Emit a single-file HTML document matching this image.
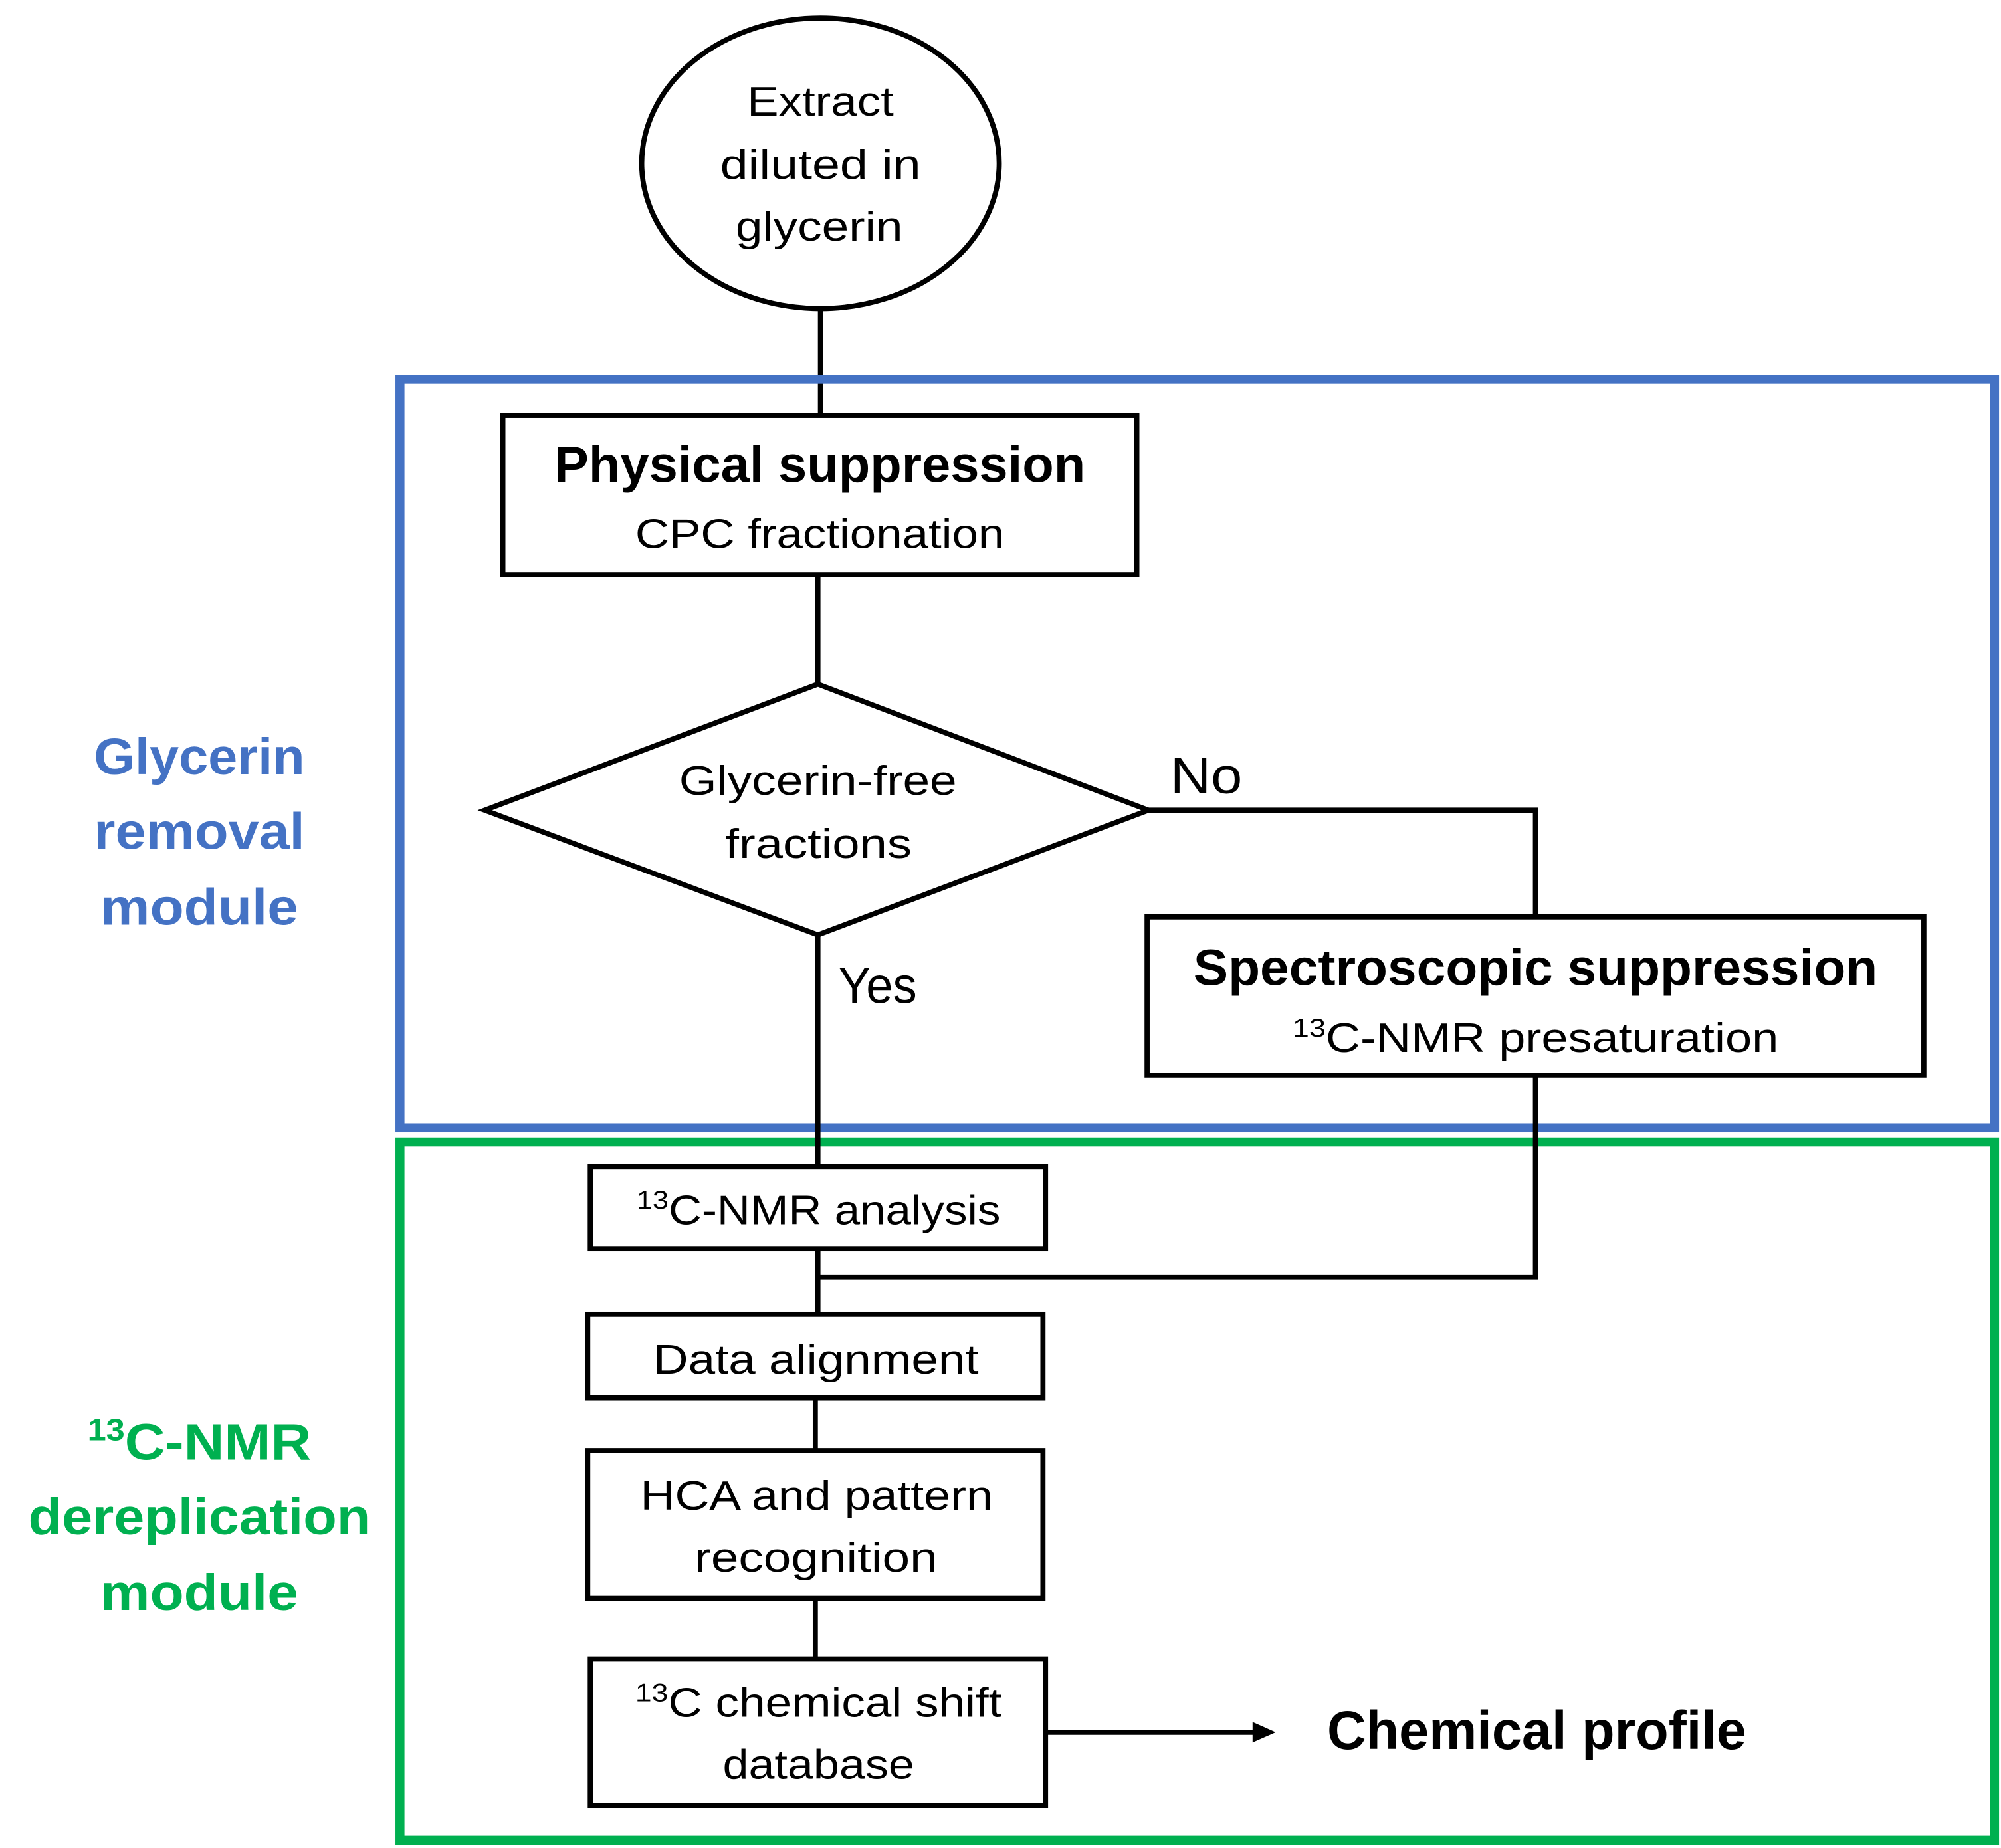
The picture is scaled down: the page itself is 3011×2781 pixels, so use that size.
<!DOCTYPE html>
<html><head><meta charset="utf-8"><style>html,body{margin:0;padding:0;background:#fff}svg{display:block}</style></head>
<body>
<svg width="3011" height="2781" viewBox="0 0 1556 1437" preserveAspectRatio="none" xmlns="http://www.w3.org/2000/svg" font-family="Liberation Sans, sans-serif">
<rect width="1556" height="1437" fill="#fff"/>
<g stroke="#000" stroke-width="4" fill="none">
<ellipse cx="638" cy="127" rx="139" ry="113"/>
<line x1="638" y1="240" x2="638" y2="323"/>
</g>
<rect x="311" y="295" width="1240" height="582" fill="none" stroke="#4472C4" stroke-width="7"/>
<rect x="311" y="888" width="1240" height="543" fill="none" stroke="#00B050" stroke-width="7"/>
<g stroke="#000" stroke-width="4" fill="none">
<rect x="391" y="323" width="493" height="124" fill="#fff"/>
<line x1="636" y1="447" x2="636" y2="532"/>
<polygon points="636,532 893,630 636,727 377,630" fill="#fff"/>
<polyline points="893,630 1194,630 1194,713"/>
<rect x="892" y="713" width="604" height="123" fill="#fff"/>
<line x1="636" y1="727" x2="636" y2="907"/>
<polyline points="1194,836 1194,993 636,993"/>
<rect x="459" y="907" width="354" height="64" fill="#fff"/>
<line x1="636" y1="971" x2="636" y2="1022"/>
<rect x="457" y="1022" width="354" height="65" fill="#fff"/>
<line x1="634" y1="1087" x2="634" y2="1128"/>
<rect x="457" y="1128" width="354" height="115" fill="#fff"/>
<line x1="634" y1="1243" x2="634" y2="1290"/>
<rect x="459" y="1290" width="354" height="114" fill="#fff"/>
<line x1="813" y1="1347" x2="978" y2="1347"/>
</g>
<polygon points="992,1347 974,1339 974,1355" fill="#000"/>
<g font-size="32" fill="#000" lengthAdjust="spacingAndGlyphs">
<text x="581" y="90" textLength="114" lengthAdjust="spacingAndGlyphs">Extract</text>
<text x="560" y="139" textLength="156" lengthAdjust="spacingAndGlyphs">diluted in</text>
<text x="572" y="187" textLength="130" lengthAdjust="spacingAndGlyphs">glycerin</text>
<text x="431" y="375" font-size="40" font-weight="bold" textLength="413" lengthAdjust="spacingAndGlyphs">Physical suppression</text>
<text x="494" y="426" textLength="287" lengthAdjust="spacingAndGlyphs">CPC fractionation</text>
<text x="528" y="618" textLength="216" lengthAdjust="spacingAndGlyphs">Glycerin-free</text>
<text x="564" y="667" textLength="145" lengthAdjust="spacingAndGlyphs">fractions</text>
<text x="910" y="617" font-size="40" textLength="56" lengthAdjust="spacingAndGlyphs">No</text>
<text x="652" y="780" font-size="40" textLength="61" lengthAdjust="spacingAndGlyphs">Yes</text>
<text x="928" y="766" font-size="40" font-weight="bold" textLength="532" lengthAdjust="spacingAndGlyphs">Spectroscopic suppression</text>
<text x="1005" y="818" textLength="378" lengthAdjust="spacingAndGlyphs"><tspan font-size="20" dy="-12">13</tspan><tspan dy="12">C-NMR presaturation</tspan></text>
<text x="495" y="952" textLength="283" lengthAdjust="spacingAndGlyphs"><tspan font-size="20" dy="-12">13</tspan><tspan dy="12">C-NMR analysis</tspan></text>
<text x="508" y="1068" textLength="253" lengthAdjust="spacingAndGlyphs">Data alignment</text>
<text x="498" y="1174" textLength="274" lengthAdjust="spacingAndGlyphs">HCA and pattern</text>
<text x="540" y="1222" textLength="189" lengthAdjust="spacingAndGlyphs">recognition</text>
<text x="494" y="1335" textLength="285" lengthAdjust="spacingAndGlyphs"><tspan font-size="20" dy="-12">13</tspan><tspan dy="12">C chemical shift</tspan></text>
<text x="562" y="1383" textLength="149" lengthAdjust="spacingAndGlyphs">database</text>
<text x="1032" y="1360" font-size="42" font-weight="bold" textLength="326" lengthAdjust="spacingAndGlyphs">Chemical profile</text>
</g>
<g font-size="40" font-weight="bold" fill="#4472C4">
<text x="73" y="602" textLength="164" lengthAdjust="spacingAndGlyphs">Glycerin</text>
<text x="73" y="660" textLength="164" lengthAdjust="spacingAndGlyphs">removal</text>
<text x="78" y="719" textLength="154" lengthAdjust="spacingAndGlyphs">module</text>
</g>
<g font-size="40" font-weight="bold" fill="#00B050">
<text x="68" y="1135" textLength="174" lengthAdjust="spacingAndGlyphs"><tspan font-size="24" dy="-15">13</tspan><tspan dy="15">C-NMR</tspan></text>
<text x="22" y="1193" textLength="266" lengthAdjust="spacingAndGlyphs">dereplication</text>
<text x="78" y="1252" textLength="154" lengthAdjust="spacingAndGlyphs">module</text>
</g>
</svg>
</body></html>
